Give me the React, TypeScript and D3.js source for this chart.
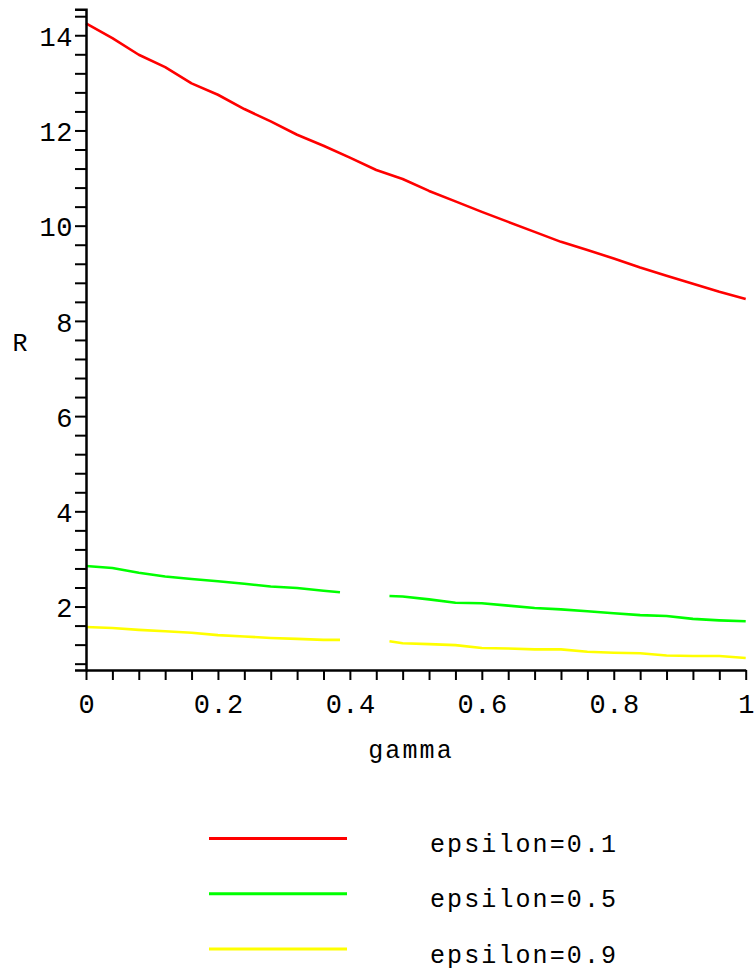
import React, { useEffect, useRef } from 'react';
import * as d3 from 'd3';

// gamma sample points for the red curve
const redGamma = [0, 0.04, 0.08, 0.12, 0.16, 0.2, 0.24, 0.28, 0.32, 0.36, 0.4, 0.44, 0.48,
  0.52, 0.56, 0.6, 0.64, 0.68, 0.72, 0.76, 0.8, 0.84, 0.88, 0.92, 0.96, 1];
const redR = [14.25, 13.94, 13.59, 13.33, 12.99, 12.75, 12.45, 12.19, 11.91, 11.68, 11.43, 11.17, 10.98,
  10.73, 10.51, 10.29, 10.08, 9.87, 9.66, 9.49, 9.31, 9.12, 8.95, 8.78, 8.61, 8.46];

// green / yellow curves share a grid, with a hole around gamma = 0.42
const lowGamma = [0, 0.04, 0.08, 0.12, 0.16, 0.2, 0.24, 0.28, 0.32, 0.36, 0.385, 0.42, 0.46, 0.48,
  0.52, 0.56, 0.6, 0.64, 0.68, 0.72, 0.76, 0.8, 0.84, 0.88, 0.92, 0.96, 1];
const greenR = [2.85, 2.81, 2.71, 2.63, 2.58, 2.53, 2.48, 2.42, 2.39, 2.33, 2.3, NaN, 2.22, 2.21,
  2.15, 2.08, 2.07, 2.02, 1.97, 1.94, 1.9, 1.86, 1.82, 1.8, 1.74, 1.71, 1.69];
const yellowR = [1.57, 1.55, 1.51, 1.48, 1.45, 1.4, 1.37, 1.34, 1.32, 1.3, 1.3, NaN, 1.27, 1.23,
  1.21, 1.19, 1.13, 1.12, 1.1, 1.1, 1.05, 1.03, 1.02, 0.97, 0.96, 0.96, 0.92];

const seriesNames = ['epsilon=0.1', 'epsilon=0.5', 'epsilon=0.9'];
const seriesColors = ['#ff0000', '#00ff00', '#ffff00'];

const xMajorTicks = [0, 0.2, 0.4, 0.6, 0.8, 1];
const yMajorTicks = [2, 4, 6, 8, 10, 12, 14];

const FONT = '"Liberation Mono", "Courier New", monospace';

const App: React.FC = () => {
  const svgRef = useRef<SVGSVGElement>(null);

  useEffect(() => {
    if (!svgRef.current) return;
    const svg = d3.select(svgRef.current);
    svg.selectAll('*').remove();

    const x = d3.scaleLinear().domain([0, 1]).range([86, 745.7]);
    const y = d3.scaleLinear().domain([0.667, 14.545]).range([670, 9.3]);

    const xTicks = d3.range(0, 26).map(i => i * 0.04);
    const yTicks = d3.range(0, 35).map(i => 0.8 + i * 0.4);
    const isMajor = (v: number, majors: number[]) => majors.some(m => Math.abs(m - v) < 1e-6);

    // curves
    const series = [
      { g: redGamma, r: redR },
      { g: lowGamma, r: greenR },
      { g: lowGamma, r: yellowR },
    ];
    const line = d3.line<[number, number]>()
      .defined(d => !isNaN(d[1]))
      .x(d => x(d[0]))
      .y(d => y(d[1]));

    series.forEach((s, i) => {
      const pts = s.g.map((g, k) => [g, s.r[k]] as [number, number]);
      svg.append('path')
        .attr('d', line(pts) || '')
        .attr('fill', 'none')
        .attr('stroke', seriesColors[i])
        .attr('stroke-width', 2.6)
        .attr('stroke-linejoin', 'round');
    });

    // x axis
    const xAxis = svg.append('g')
      .attr('transform', 'translate(0,670)')
      .call(d3.axisBottom(x)
        .tickValues(xTicks)
        .tickSize(10)
        .tickSizeOuter(0)
        .tickFormat(v => (isMajor(+v, xMajorTicks) ? String(+(+v).toFixed(1)) : '')));
    xAxis.select('.domain').attr('stroke', '#000').attr('stroke-width', 2.5);
    xAxis.selectAll('.tick line').attr('stroke', '#000').attr('stroke-width', 2);
    xAxis.selectAll('.tick text')
      .attr('y', 43)
      .attr('dy', 0)
      .attr('dx', 0.3)
      .style('font-family', FONT)
      .style('font-size', '27px')
      .style('letter-spacing', '0.5px')
      .style('fill', '#000');

    // y axis
    const yAxis = svg.append('g')
      .attr('transform', 'translate(86,0)')
      .call(d3.axisLeft(y)
        .tickValues(yTicks)
        .tickSize(11)
        .tickSizeOuter(11)
        .tickFormat(v => (isMajor(+v, yMajorTicks) ? String(Math.round(+v)) : '')));
    yAxis.select('.domain').attr('stroke', '#000').attr('stroke-width', 2.5);
    yAxis.selectAll('.tick line').attr('stroke', '#000').attr('stroke-width', 2);
    yAxis.selectAll('.tick text')
      .attr('x', -13)
      .attr('dy', '0.38em')
      .style('font-family', FONT)
      .style('font-size', '27px')
      .style('letter-spacing', '0.5px')
      .style('fill', '#000');

    // axis titles
    svg.append('text')
      .attr('x', 411)
      .attr('y', 758)
      .attr('text-anchor', 'middle')
      .style('font-family', FONT)
      .style('font-size', '25px')
      .style('letter-spacing', '2.1px')
      .text('gamma');

    svg.append('text')
      .attr('x', 20)
      .attr('y', 351)
      .attr('text-anchor', 'middle')
      .style('font-family', FONT)
      .style('font-size', '25px')
      .text('R');

    // legend
    const legendY = d3.scalePoint<string>().domain(seriesNames).range([838.5, 949]);
    seriesNames.forEach((name, i) => {
      const ly = legendY(name) || 0;
      svg.append('line')
        .attr('x1', 209)
        .attr('x2', 347)
        .attr('y1', ly)
        .attr('y2', ly)
        .attr('stroke', seriesColors[i])
        .attr('stroke-width', 3);
      svg.append('text')
        .attr('x', 430)
        .attr('y', ly + 13.5)
        .style('font-family', FONT)
        .style('font-size', '25px')
        .style('letter-spacing', '2.1px')
        .text(name);
    });
  }, []);

  return (
    <div style={{ position: 'absolute', left: 0, top: 0, background: '#fff' }}>
      <svg ref={svgRef} width={755} height={974} style={{ display: 'block' }} />
    </div>
  );
};

export default App;
